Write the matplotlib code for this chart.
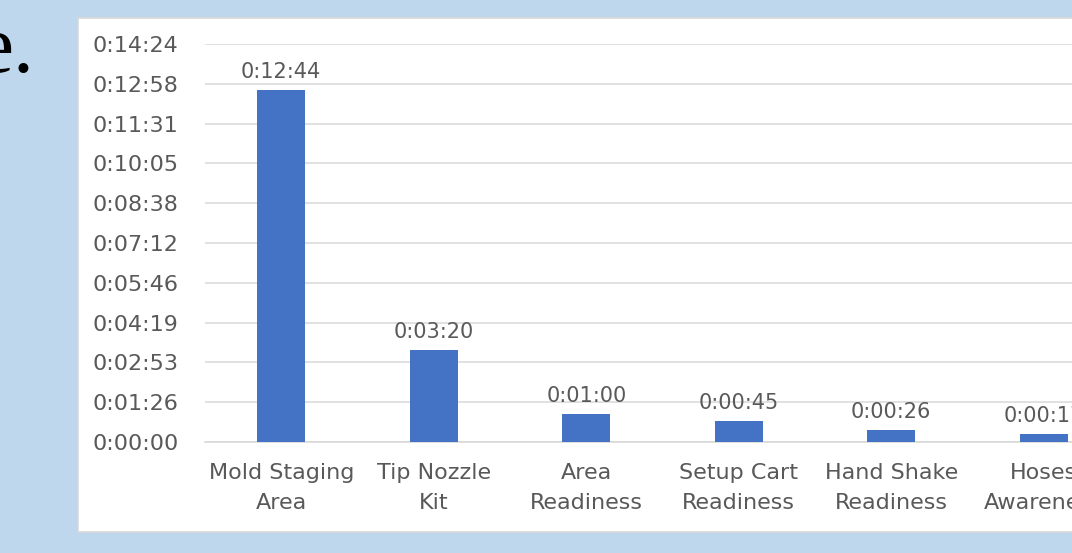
import matplotlib
matplotlib.use("Agg")
import matplotlib.pyplot as plt
from matplotlib.patches import Rectangle
from matplotlib.ticker import FixedLocator, FuncFormatter

categories = ["Mold Staging\nArea", "Tip Nozzle\nKit", "Area\nReadiness",
              "Setup Cart\nReadiness", "Hand Shake\nReadiness", "Hoses\nAwareness"]
seconds = [764, 200, 60, 45, 26, 17]
y_ticks = [i * 86.4 for i in range(11)]

BAR = "#4472C4"
TXT = "#595959"
GRID = "#D9D9D9"
BG = "#BFD7ED"


def hms(s, pos=None):
    s = int(round(s))
    return f"{s // 3600}:{(s % 3600) // 60:02d}:{s % 60:02d}"


plt.rcParams["font.family"] = ["DejaVu Sans"]

fig = plt.figure(figsize=(10.72, 5.53), dpi=100, facecolor=BG)
W, H = 1072, 553

# white slide panel behind the chart
fig.patches.append(Rectangle((78 / W, (H - 532) / H), 1.1, (532 - 18) / H,
                             transform=fig.transFigure, facecolor="white",
                             edgecolor=GRID, linewidth=1.2, zorder=-5))
fig.text(35 / W, (H - 72) / H, "e.", family="Liberation Serif", fontsize=60,
         ha="right", va="baseline", color="black")

ax = fig.add_axes([205 / W, (H - 442) / H, 915 / W, 398 / H])
ax.set_zorder(2)
ax.set_facecolor("none")
x = range(len(categories))
ax.bar(x, seconds, width=0.315, color=BAR, zorder=3)
for xi, v in zip(x, seconds):
    ax.annotate(hms(v), (xi, v), xytext=(0, 6), textcoords="offset points",
                ha="center", va="bottom", fontsize=15, color=TXT)

ax.set_xlim(-0.5, len(categories) - 0.5)
ax.set_ylim(0, 864)
ax.yaxis.set_major_locator(FixedLocator(y_ticks))
ax.yaxis.set_major_formatter(FuncFormatter(hms))
ax.set_xticks(list(x))
ax.set_xticklabels(categories, linespacing=1.65)
ax.tick_params(axis="y", length=0, pad=19, labelsize=16, labelcolor=TXT)
ax.tick_params(axis="x", length=0, pad=15, labelsize=16, labelcolor=TXT)
ax.grid(axis="y", color=GRID, linewidth=1.1, zorder=0)
for side in ["top", "right", "left"]:
    ax.spines[side].set_visible(False)
ax.spines["bottom"].set_color(GRID)
ax.spines["bottom"].set_linewidth(1.2)

fig.savefig("out.png", dpi=100, facecolor=BG)
